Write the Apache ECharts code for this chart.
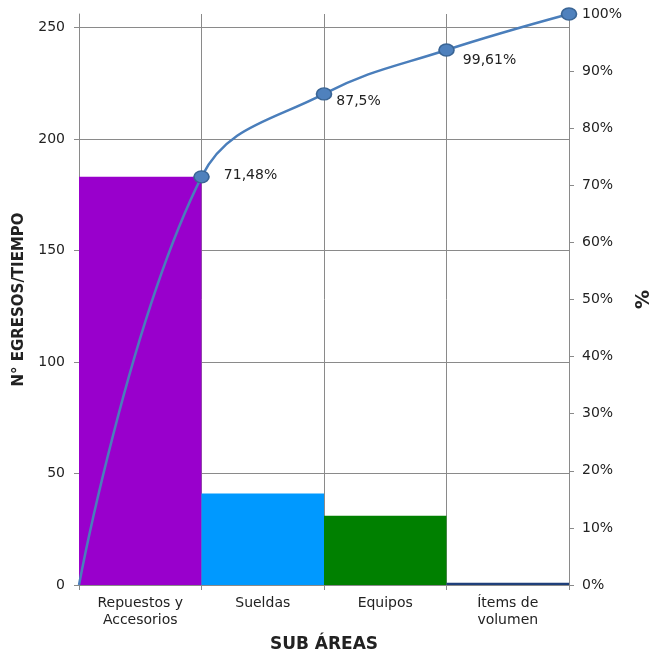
<!DOCTYPE html>
<html>
<head>
<meta charset="utf-8">
<script src="https://cdn.jsdelivr.net/npm/echarts@6/dist/echarts.min.js"></script>
<style>
html,body{margin:0;padding:0;background:#fff;overflow:hidden;width:654px;height:659px;}
#chart{position:absolute;left:0;top:0;width:654px;height:659px;}
</style>
</head>
<body>
<div id="chart"></div>
<script>
// ---- data ----
const categories = ['Repuestos y\nAccesorios', 'Sueldas', 'Equipos', 'Ítems de\nvolumen'];
const egresos = [183, 41, 31, 1];
const barColors = ['#9900CC', '#0099FF', '#008000', '#1F3F7A'];
// cumulative line as drawn (right axis %), at category boundaries 0..4
const cumPos = [0, 1, 2, 3, 4];
const cumPct = [0, 71.48, 86.0, 93.7, 100];
const cumLabels = ['', '71,48%', '87,5%', '99,61%', ''];
const leftTicks = [0, 50, 100, 150, 200, 250];
const leftMax = 256;
const rightTicks = [0, 10, 20, 30, 40, 50, 60, 70, 80, 90, 100];

const FONT = 'DejaVu Sans';
const GRID = '#8a8a8a';
const TXT = '#222';

// label placement per point (style only)
const labelStyle = [
  null,
  {distance: 14, offset: [0, -1]},
  {distance: 4, offset: [0, 7.5]},
  {distance: 8, offset: [0, 10]},
  null
];

const lineData = cumPos.map((x, i) => {
  const d = {value: [x, cumPct[i]]};
  if (i === 0) { d.symbol = 'none'; }
  if (cumLabels[i]) {
    d.label = {
      show: true,
      position: 'right',
      distance: labelStyle[i].distance,
      offset: labelStyle[i].offset,
      formatter: cumLabels[i],
      fontFamily: FONT, fontSize: 14, color: TXT
    };
  }
  return d;
});

const el = document.getElementById('chart');
const chart = echarts.init(el, null, {renderer: 'canvas', width: 654, height: 659});
chart.setOption({
  animation: false,
  backgroundColor: '#fff',
  grid: {left: 79, right: 85, top: 14, bottom: 74, containLabel: false, outerBoundsMode: 'none'},
  xAxis: [
    {
      type: 'category',
      data: categories,
      boundaryGap: true,
      name: 'SUB ÁREAS',
      nameLocation: 'middle',
      nameGap: 51,
      nameTextStyle: {fontFamily: FONT, fontSize: 17, fontWeight: 'bold', color: TXT},
      axisLine: {show: true, lineStyle: {color: GRID, width: 1}},
      axisTick: {show: true, length: 5, lineStyle: {color: GRID}},
      axisLabel: {fontFamily: FONT, fontSize: 14, color: TXT, margin: 10, lineHeight: 17, interval: 0},
      splitLine: {show: true, lineStyle: {color: GRID, width: 1}}
    },
    {
      type: 'value',
      min: 0, max: 4,
      show: false,
      splitLine: {show: false}
    }
  ],
  yAxis: [
    {
      type: 'value',
      min: 0, max: leftMax, interval: 50,
      position: 'left',
      name: 'N° EGRESOS/TIEMPO',
      nameLocation: 'middle',
      nameRotate: 90,
      nameGap: 52,
      nameTextStyle: {fontFamily: FONT, fontSize: 15, fontWeight: 'bold', color: TXT},
      axisLine: {show: true, lineStyle: {color: GRID, width: 1}},
      axisTick: {show: true, length: 5, customValues: leftTicks, lineStyle: {color: GRID}},
      axisLabel: {
        fontFamily: FONT, fontSize: 14, color: TXT, margin: 14,
        customValues: leftTicks,
        formatter: v => (leftTicks.indexOf(v) >= 0 ? String(v) : '')
      },
      splitLine: {show: true, lineStyle: {color: [GRID, GRID, GRID, GRID, GRID, GRID, 'rgba(0,0,0,0)'], width: 1}}
    },
    {
      type: 'value',
      min: 0, max: 100, interval: 10,
      position: 'right',
      name: '%',
      nameLocation: 'middle',
      nameRotate: 90,
      nameGap: 66,
      nameTextStyle: {fontFamily: FONT, fontSize: 19, fontWeight: 'bold', color: TXT},
      axisLine: {show: true, lineStyle: {color: GRID, width: 1}},
      axisTick: {show: true, length: 5, customValues: rightTicks, lineStyle: {color: GRID}},
      axisLabel: {fontFamily: FONT, fontSize: 14, color: TXT, margin: 13, customValues: rightTicks, formatter: '{value}%'},
      splitLine: {show: false}
    }
  ],
  series: [
    {
      type: 'bar',
      xAxisIndex: 0, yAxisIndex: 0,
      barCategoryGap: '0%',
      data: egresos.map((v, i) => ({value: v, itemStyle: {color: barColors[i]}})),
      z: 2
    },
    {
      type: 'line',
      xAxisIndex: 1, yAxisIndex: 1,
      smooth: 0.4,
      data: lineData,
      symbol: 'circle',
      symbolSize: [15, 12],
      lineStyle: {color: '#4A7EBB', width: 2.5},
      itemStyle: {color: '#4F81BD', borderColor: '#3A6595', borderWidth: 1.5},
      z: 3
    }
  ]
});
</script>
</body>
</html>
